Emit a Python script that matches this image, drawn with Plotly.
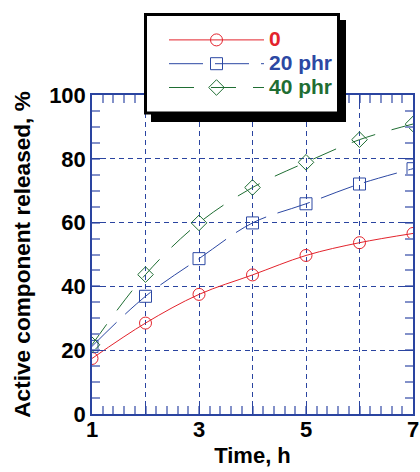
import plotly.graph_objects as go

time_h = [1, 2, 3, 4, 5, 6, 7]
rel_0 = [17.4, 28.5, 37.5, 43.6, 49.7, 53.7, 56.6]
rel_20 = [21.2, 36.9, 48.7, 59.9, 65.9, 72.1, 76.9]
rel_40 = [21.7, 43.7, 59.9, 71.0, 78.9, 86.0, 90.9]
names = ["0", "20 phr", "40 phr"]
x_ticks = [1, 2, 3, 4, 5, 6, 7]
x_ticktext = ["1", "", "3", "", "5", "", "7"]
y_ticks = [0, 20, 40, 60, 80, 100]

RED = "#e3232c"
BLUE = "#2c48a3"
GREEN = "#1f6e33"
AX = "#2a44a0"
MINOR = "#8391c9"
FONT = "Arial, Liberation Sans, sans-serif"


def lg(name, color):
    return f'<span style="color:{color};font-size:21px">{name}</span>'


fig = go.Figure()
fig.add_trace(go.Scatter(
    x=time_h, y=rel_0, mode="lines+markers",
    name=lg(names[0], RED),
    line=dict(color=RED, width=1, shape="spline"),
    marker=dict(symbol="circle-open", size=12, color=RED, line=dict(width=1)),
))
fig.add_trace(go.Scatter(
    x=time_h, y=rel_20, mode="lines+markers",
    name=lg(names[1], BLUE),
    line=dict(color=BLUE, width=1, shape="spline", dash="34px,12px"),
    marker=dict(symbol="square-open", size=12, color=BLUE, line=dict(width=1)),
))
fig.add_trace(go.Scatter(
    x=time_h, y=rel_40, mode="lines+markers",
    name=lg(names[2], GREEN),
    line=dict(color=GREEN, width=1, shape="spline", dash="25px,17px"),
    marker=dict(symbol="diamond-open", size=12, color=GREEN, line=dict(width=1)),
))

axis_common = dict(
    showline=True, linecolor=AX, linewidth=1.5, mirror="allticks",
    ticks="inside", tickcolor=AX, ticklen=12, tickwidth=1,
    showgrid=True, gridcolor=AX, gridwidth=1, griddash="5px,4px",
    zeroline=False, automargin=False,
    tickfont=dict(family=FONT, size=22, color="black", weight="bold"),
)

fig.update_xaxes(
    **axis_common,
    range=[1, 7], tickvals=x_ticks, ticktext=x_ticktext,
    ticklabelstandoff=-5,
    minor=dict(ticks="inside", dtick=0.2, ticklen=8, tickcolor=MINOR, tickwidth=1.5, showgrid=False),
    title=dict(text="Time, h", font=dict(family=FONT, size=22, color="black", weight="bold"), standoff=6),
)
fig.update_yaxes(
    **axis_common,
    range=[0, 100], tickvals=y_ticks,
    minor=dict(ticks="inside", dtick=5, ticklen=8, tickcolor=MINOR, tickwidth=1.5, showgrid=False),
    title=dict(text="Active component released, %", font=dict(family=FONT, size=22.6, color="black", weight="bold"), standoff=12),
)


def px_x(p):
    return (p - 92) / 321.0


def px_y(p):
    return (414 - p) / 319.0


# legend frame: drop shadow + white framed box
fig.add_shape(type="rect", xref="paper", yref="paper", layer="above",
              x0=px_x(151), x1=px_x(346), y0=px_y(122), y1=px_y(20),
              fillcolor="black", line=dict(width=0))
fig.add_shape(type="rect", xref="paper", yref="paper", layer="above",
              x0=px_x(145.5), x1=px_x(338.5), y0=px_y(113), y1=px_y(14.5),
              fillcolor="white", line=dict(color="black", width=3))

fig.update_layout(
    width=420, height=472,
    margin=dict(l=92, r=7, t=95, b=58),
    paper_bgcolor="white", plot_bgcolor="white",
    showlegend=True,
    legend=dict(
        x=px_x(164), y=px_y(23), xanchor="left", yanchor="top",
        bgcolor="rgba(0,0,0,0)", borderwidth=0,
        font=dict(family=FONT, size=16, weight="bold"),
        itemwidth=95,
    ),
)

fig.write_html("out.html")
